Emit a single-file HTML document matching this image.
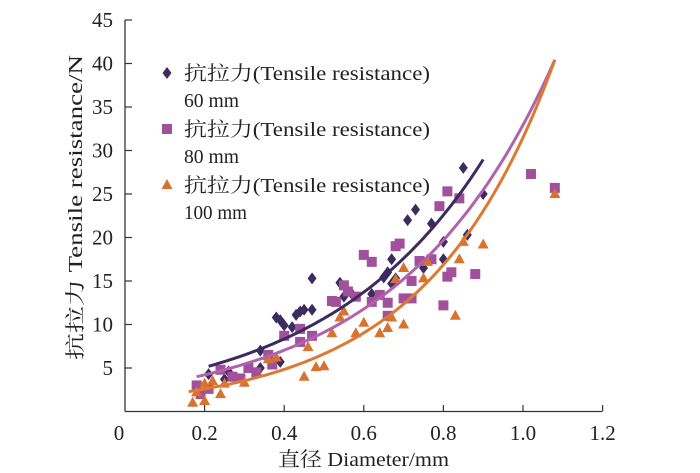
<!DOCTYPE html>
<html><head><meta charset="utf-8"><style>
body{margin:0;background:#fff;}
svg{display:block;font-family:"Liberation Serif","Noto Serif CJK SC",serif;}
</style></head><body>
<svg id="chart" width="700" height="473" viewBox="0 0 700 473">
<g id="axes"></g><g id="marks"></g><g id="legend"></g>
<text x="278" y="466" font-size="20" textLength="171" lengthAdjust="spacingAndGlyphs" fill="#222">直径 Diameter/mm</text>
<text transform="translate(82,360) rotate(-90)" font-size="20" textLength="305" lengthAdjust="spacingAndGlyphs" fill="#222">抗拉力 Tensile resistance/N</text>
</svg>
<script>
const xTicks=[0,0.2,0.4,0.6,0.8,1.0,1.2];
const xTickLabels=["0","0.2","0.4","0.6","0.8","1.0","1.2"];
const yTicks=[5,10,15,20,25,30,35,40,45];
const s60x=[0.21,0.25,0.26,0.34,0.34,0.38,0.39,0.40,0.39,0.42,0.43,0.44,0.45,0.47,0.47,0.54,0.55,0.57,0.62,0.65,0.66,0.67,0.67,0.68,0.71,0.73,0.75,0.77,0.80,0.80,0.85,0.86,0.90];
const s60y=[4.3,3.7,4.6,7,5,10.8,10.5,9.9,5.7,9.7,11.1,11.5,11.7,11.7,15.3,14.8,13.2,13.5,13.5,15.4,16,17.5,14.7,15.3,22,23.2,16.5,21.6,19.5,17.5,28,20.3,25];
const s80x=[0.18,0.19,0.21,0.24,0.27,0.29,0.31,0.33,0.36,0.37,0.40,0.44,0.44,0.47,0.52,0.53,0.55,0.56,0.58,0.60,0.62,0.62,0.64,0.66,0.66,0.68,0.69,0.70,0.72,0.72,0.74,0.77,0.79,0.80,0.81,0.82,0.81,0.84,0.88,1.02,1.08];
const s80y=[3,2,2.6,4.8,4,3.8,5,4.5,6.5,5.4,8.7,9.5,8,8.7,12.7,12.6,14.5,13.8,13.2,18,17.2,12.6,13.4,12.5,11,19,19.3,13,13,15,17.3,17.5,23.6,12.2,15.5,16,25.3,24.5,15.8,27.3,25.7];
const s100x=[0.17,0.18,0.20,0.20,0.22,0.24,0.25,0.30,0.36,0.38,0.45,0.46,0.48,0.50,0.52,0.54,0.55,0.58,0.60,0.64,0.66,0.67,0.68,0.70,0.70,0.75,0.76,0.84,0.83,0.85,0.90,1.08];
const s100y=[1,2.2,3.2,1.2,3.5,2,3.2,3.3,6,6.2,4,7.4,5.1,5.2,9,10.8,11.5,9,10.2,9,9.6,10.8,15.2,10,16.5,15.3,17.2,17.5,11,19.5,19.2,25];
const fitA=[3.08,2.52,1.39];
const fitB=[2.49,2.57,3.12];
const fitRange=[[0.21,0.90],[0.18,1.08],[0.16,1.08]];
const NS="http://www.w3.org/2000/svg";
const X=v=>125+v*398, Y=v=>411.5-v*8.7;
function mk(t,a,p){const e=document.createElementNS(NS,t);for(const k in a)e.setAttribute(k,a[k]);p.appendChild(e);return e;}
const ax=document.getElementById('axes'),mg=document.getElementById('marks'),lg=document.getElementById('legend');
let e=mk('line',{x1:125,y1:411.5,x2:602,y2:411.5,stroke:'#333','stroke-width':1.3},ax);


e=mk('line',{x1:125,y1:411.5,x2:125,y2:20,stroke:'#333','stroke-width':1.3},ax);


xTicks.forEach((v,i)=>{
 if(v>0){e=mk('line',{x1:X(v),y1:411.5,x2:X(v),y2:405,stroke:'#333','stroke-width':1.2},ax);
 
 }
 e=mk('text',{x:X(v)-(v==0?6:0),y:440,'font-size':21,'text-anchor':'middle',fill:'#222'},ax);e.textContent=xTickLabels[i];
 
 
});
yTicks.forEach(v=>{
 e=mk('line',{x1:125,y1:Y(v),x2:132,y2:Y(v),stroke:'#333','stroke-width':1.2},ax);
 
 
 e=mk('text',{x:113,y:Y(v)+7,'font-size':21,'text-anchor':'end',fill:'#222'},ax);e.textContent=v;
 
 
});
const cols=['#3b2b5e','#a24f9c','#d8732f'],lcols=['#3b2b5e','#b062ad','#dc7a34'];
function marker(type,x,y,c,name){
 let m;
 if(type==0)m=mk('polygon',{points:`${x},${y-6} ${x+4.5},${y} ${x},${y+6} ${x-4.5},${y}`,fill:c},mg);
 else if(type==1)m=mk('rect',{x:x-5,y:y-5,width:10,height:10,fill:c},mg);
 else m=mk('polygon',{points:`${x},${y-6} ${x+5.5},${y+4} ${x-5.5},${y+4}`,fill:c},mg);
 
 
 return m;
}
[[s60x,s60y],[s80x,s80y],[s100x,s100y]].forEach(([xs,ys],k)=>{
 xs.forEach((v,i)=>marker(k,X(v),Y(ys[i]),cols[k],'point-'+['60mm','80mm','100mm'][k]));
});
[0,1,2].forEach(k=>{
 let d='';const [a,b]=fitRange[k];
 for(let i=0;i<=60;i++){const xv=a+(b-a)*i/60;d+=(i?'L':'M')+X(xv).toFixed(1)+','+Y(fitA[k]*Math.exp(fitB[k]*xv)).toFixed(1);}
 e=mk('path',{d:d,fill:'none',stroke:lcols[k],'stroke-width':3},mg);
 
 
});
const legLabels=['60 mm','80 mm','100 mm'];
const legW=[55,55,63];
[0,1,2].forEach(k=>{
 const y0=73+k*56;
 const m=marker(k,167,y0,cols[k],'legend-marker');
 lg.appendChild(m);
 e=mk('text',{x:184,y:y0+7,'font-size':20,textLength:246,lengthAdjust:'spacingAndGlyphs',fill:'#222'},lg);e.textContent='抗拉力(Tensile resistance)';
 
 
 e=mk('text',{x:184,y:y0+34,'font-size':20,textLength:legW[k],lengthAdjust:'spacingAndGlyphs',fill:'#222'},lg);e.textContent=legLabels[k];
 
 
});
</script>
</body></html>
